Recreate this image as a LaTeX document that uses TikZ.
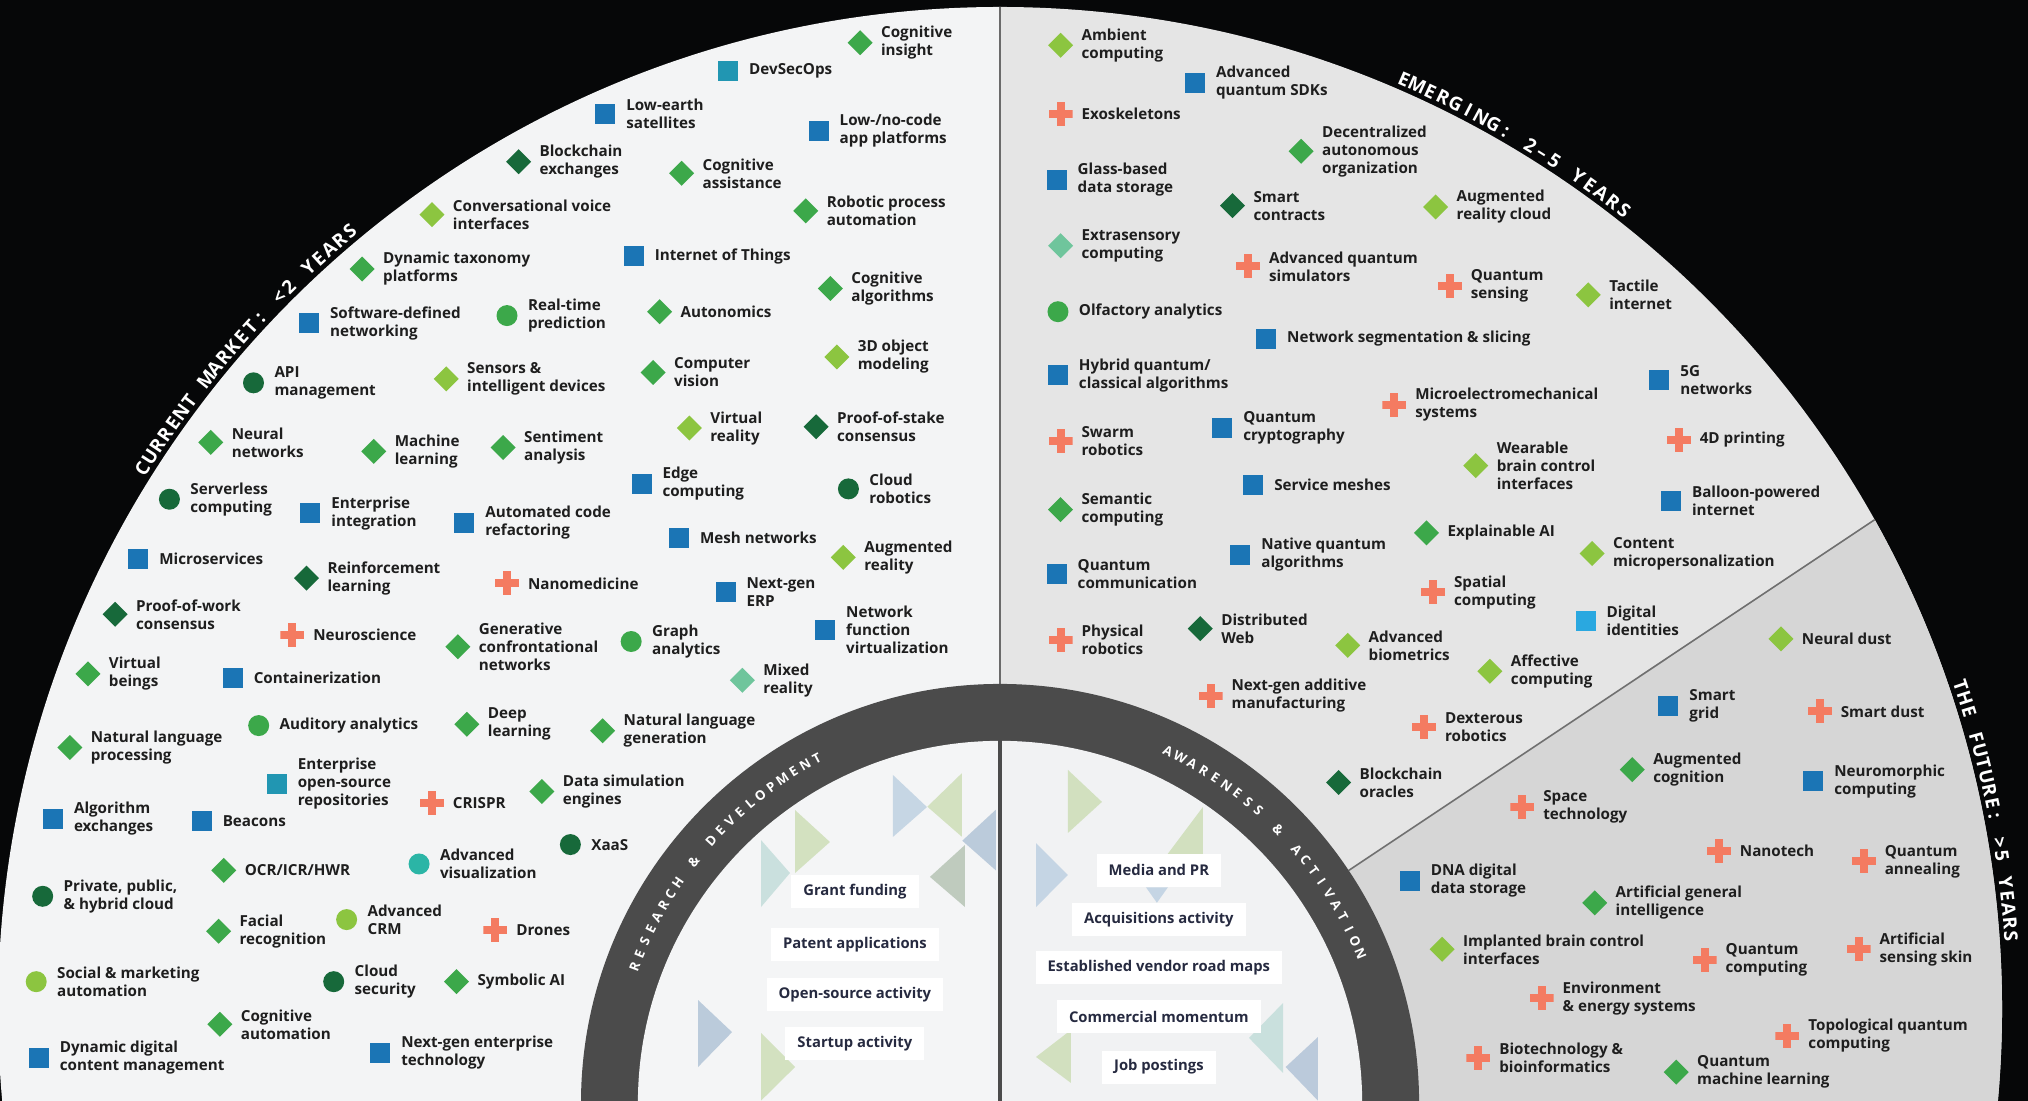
\documentclass[tikz,border=0pt]{standalone}
\usepackage{fontspec}
\setmainfont{Open Sans}
\usetikzlibrary{shapes.geometric,calc}

\definecolor{cbg}{HTML}{060708}
\definecolor{cleft}{HTML}{F3F4F5}
\definecolor{cright}{HTML}{E5E5E5}
\definecolor{cfut}{HTML}{D6D6D6}
\definecolor{cinL}{HTML}{F4F5F6}
\definecolor{cinR}{HTML}{F1F2F3}
\definecolor{cring}{HTML}{4B4B4B}
\definecolor{cvline}{HTML}{6A6A6A}
\definecolor{cdiv}{HTML}{707070}
\definecolor{ctext}{HTML}{1E1E1E}
\definecolor{cnavy}{HTML}{262A40}
\definecolor{cblue}{HTML}{1B75B5}
\definecolor{cteal}{HTML}{2196B2}
\definecolor{clblue}{HTML}{2AA8E0}
\definecolor{cgreen}{HTML}{3CA84A}
\definecolor{cdark}{HTML}{17693A}
\definecolor{clime}{HTML}{8CC540}
\definecolor{cmint}{HTML}{6FC59C}
\definecolor{ctealc}{HTML}{2BB5A6}
\definecolor{cred}{HTML}{F47B61}
\definecolor{tblue}{HTML}{B7CCDF}
\definecolor{tgreen}{HTML}{C8DBAE}
\definecolor{tteal}{HTML}{BCDAD6}
\definecolor{tgrey}{HTML}{AEBDAC}
\definecolor{tslate}{HTML}{A9BDD3}

\newcommand\lblfont{\fontsize{7.6}{9}\selectfont\bfseries}
\newcommand\boxfont{\fontsize{7.4}{8.6}\selectfont\bfseries}
\newcommand\titlefont{\fontsize{9.4}{11}\selectfont\bfseries}
\newcommand\ringfont{\fontsize{6.6}{8}\selectfont\bfseries}

% one technology: marker node m<id> and its label l<id>
\newcommand\tk[5]{%
  \node[#2] (m#1) at (#3,#4) {};
  \node[lbl] (l#1) at ([xshift=10.5pt]m#1.center) {#5};}

% letters set along a circular arc, tops outward, spread evenly
% #1 name prefix, #2 centre, #3 radius, #4 start angle, #5 end angle (clockwise), #6 font, #7 letters
\newlength\chw
\newcommand\curvetext[7]{%
  \gdef\ctw{0}\gdef\ctn{0}%
  \foreach \ch in {#7}{%
    \settowidth\chw{#6\ch}%
    \pgfmathsetmacro\tmpa{\ctw+\chw}\xdef\ctw{\tmpa}%
    \pgfmathtruncatemacro\tmpb{\ctn+1}\xdef\ctn{\tmpb}%
  }%
  \pgfmathsetmacro\ctrad{#3*0.6467}%
  \pgfmathsetmacro\ctlen{\ctrad*((#4-#5)/180*pi)}%
  \pgfmathsetmacro\ctgap{(\ctlen-\ctw)/(\ctn-1)}%
  \gdef\ctpos{0}%
  \foreach \ch [count=\ci] in {#7}{%
    \settowidth\chw{#6\ch}%
    \pgfmathsetmacro\ctmid{\ctpos+\chw/2}%
    \pgfmathsetmacro\ctang{#4-(\ctmid/\ctrad)*57.29578}%
    \node[anchor=base, inner sep=0pt, outer sep=0pt, rotate=\ctang-90, font=#6, text=white]
      (#1\ci) at ($(#2)+(-\ctang:#3)$) {\ch};
    \pgfmathsetmacro\tmpc{\ctpos+\chw+\ctgap}\xdef\ctpos{\tmpc}%
  }%
}

\tikzset{
  mk/.style={inner sep=0pt, outer sep=0pt, draw=none},
  sq/.style={mk, rectangle, minimum size=10pt, fill=#1},
  dm/.style={mk, diamond, minimum size=12.5pt, fill=#1},
  ci/.style={mk, circle, minimum size=10.5pt, fill=#1},
  pl/.style={mk, rectangle, minimum size=12pt,
    path picture={
      \fill[#1] ($(path picture bounding box.center)+(-6pt,-2pt)$) rectangle ++(12pt,4pt);
      \fill[#1] ($(path picture bounding box.center)+(-2pt,-6pt)$) rectangle ++(4pt,12pt);}},
  lbl/.style={anchor=west, align=left, inner sep=0pt, outer sep=0pt, font=\lblfont, text=ctext},
  ibox/.style={fill=white, inner xsep=6pt, inner ysep=0pt, minimum height=16.5pt, font=\boxfont, text=cnavy}
}

\begin{document}
\begin{tikzpicture}[x=0.6467pt,y=-0.6467pt]
\useasboundingbox (0,0) rectangle (1568,851);
\fill[cbg] (0,0) rectangle (1568,851);

\coordinate (O) at (773.2,780.1);
\coordinate (C) at (773.2,852.8);

% the three horizon sectors
\begin{scope}
  \clip (O) circle[radius=774.7];
  \fill[cleft] (0,0) rectangle (773.2,851);
  \fill[cright] (773.2,0) rectangle (1568,851);
  \fill[cfut] (C) -- ++(-33.7:1400) -- (2200,852.8) -- cycle;
  \draw[cdiv, line width=0.8pt] ($(C)+(-33.7:324)$) -- ($(C)+(-33.7:1000)$);
  \draw[cvline, line width=0.9pt] (773.2,0) -- (773.2,560);
\end{scope}

% central ring and inner half discs
\fill[cring] (C) circle[radius=324];
\begin{scope}
  \clip (C) circle[radius=280];
  \fill[cinL] (400,500) rectangle (773.2,860);
  \fill[cinR] (773.2,500) rectangle (1150,860);
  \begin{scope}[fill opacity=0.75]
    \fill[tblue]  (690.4,599.2) -- (690.4,647.1) -- (716.7,624) -- cycle;
    \fill[tgreen] (743.6,597.9) -- (743.6,646.9) -- (717,623.7) -- cycle;
    \fill[tgreen] (614.7,626.3) -- (614.7,675) -- (641.7,651) -- cycle;
    \fill[tteal]  (588.4,649.5) -- (588.4,701.3) -- (610.8,675) -- cycle;
    \fill[tgrey]  (746.1,653.3) -- (746.1,701.3) -- (719,678) -- cycle;
    \fill[tslate] (770,626) -- (770,673) -- (744,650) -- cycle;
    \fill[tslate] (539.7,773.2) -- (539.7,825) -- (566,798) -- cycle;
    \fill[tgreen] (588.4,798.7) -- (588.4,851) -- (614.7,825) -- cycle;
    \fill[tgreen] (825.7,595.3) -- (825.7,644) -- (852,620) -- cycle;
    \fill[tblue]  (801,651.8) -- (801,701.3) -- (825.7,676.5) -- cycle;
    \fill[tgreen] (930,624) -- (930,664) -- (900,664) -- cycle;
    \fill[tblue]  (886,686) -- (903,686) -- (894.5,698) -- cycle;
    \fill[tgreen] (828,796.4) -- (828,837.3) -- (801,817.2) -- cycle;
    \fill[tteal]  (992,775.5) -- (992,829.6) -- (965.7,802.5) -- cycle;
    \fill[tslate] (1019,801.8) -- (1019,851) -- (994,825) -- cycle;
  \end{scope}
\end{scope}
\draw[cring, line width=2.2pt] (773.2,560) -- (773.2,851);

% horizon titles and ring captions
\curvetext{cm}{O}{778.5}{147.8}{129.9}{\titlefont}{C,U,R,R,E,N,T,~,M,A,R,K,E,T,:,~,<,2,~,Y,E,A,R,S}
\curvetext{em}{O}{778.5}{66.5}{52}{\titlefont}{E,M,E,R,G,I,N,G,:,~,2,–,5,~,Y,E,A,R,S}
\curvetext{fu}{O}{778.5}{18.6}{4.1}{\titlefont}{T,H,E,~,F,U,T,U,R,E,:,~,>,5,~,Y,E,A,R,S}
\curvetext{rd}{C}{298}{159.5}{118}{\ringfont}{R,E,S,E,A,R,C,H,~,\&,~,D,E,V,E,L,O,P,M,E,N,T}
\curvetext{aa}{C}{298}{64.5}{22.5}{\ringfont}{A,W,A,R,E,N,E,S,S,~,\&,~,A,C,T,I,V,A,T,I,O,N}

% inner signals
\node[ibox] (b1) at (661,689) {Grant funding};
\node[ibox] (b2) at (661,730) {Patent applications};
\node[ibox] (b3) at (661,769) {Open-source activity};
\node[ibox] (b4) at (661,807) {Startup activity};
\node[ibox] (b5) at (896,673) {Media and PR};
\node[ibox] (b6) at (896,711) {Acquisitions activity};
\node[ibox] (b7) at (896,748) {Established vendor road maps};
\node[ibox] (b8) at (896,786) {Commercial momentum};
\node[ibox] (b9) at (896,825) {Job postings};

% current market
\tk{1}{dm=cgreen}{665}{33}{Cognitive\\insight}
\tk{2}{sq=cteal}{563}{55}{DevSecOps}
\tk{3}{sq=cblue}{468}{88}{Low-earth\\satellites}
\tk{4}{sq=cblue}{633}{101}{Low-/no-code\\app platforms}
\tk{5}{dm=cdark}{401}{125}{Blockchain\\exchanges}
\tk{6}{dm=cgreen}{527}{134}{Cognitive\\assistance}
\tk{7}{dm=clime}{334}{166}{Conversational voice\\interfaces}
\tk{8}{dm=cgreen}{623}{163}{Robotic process\\automation}
\tk{9}{dm=cgreen}{280}{208}{Dynamic taxonomy\\platforms}
\tk{10}{sq=cblue}{490}{198}{Internet of Things}
\tk{11}{dm=cgreen}{642}{223}{Cognitive\\algorithms}
\tk{12}{sq=cblue}{239}{250}{Software-defined\\networking}
\tk{13}{ci=cgreen}{392}{244}{Real-time\\prediction}
\tk{14}{dm=cgreen}{510}{241}{Autonomics}
\tk{15}{dm=clime}{647}{276}{3D object\\modeling}
\tk{16}{ci=cdark}{196}{296}{API\\management}
\tk{17}{dm=clime}{345}{293}{Sensors \&\\intelligent devices}
\tk{18}{dm=cgreen}{505}{288}{Computer\\vision}
\tk{19}{dm=cgreen}{163}{342}{Neural\\networks}
\tk{20}{dm=cgreen}{289}{349}{Machine\\learning}
\tk{21}{dm=cgreen}{389}{346}{Sentiment\\analysis}
\tk{22}{dm=clime}{533}{331}{Virtual\\reality}
\tk{23}{dm=cdark}{631}{330}{Proof-of-stake\\consensus}
\tk{24}{ci=cdark}{131}{386}{Serverless\\computing}
\tk{25}{sq=cblue}{240}{397}{Enterprise\\integration}
\tk{26}{sq=cblue}{359}{404}{Automated code\\refactoring}
\tk{27}{sq=cblue}{496}{374}{Edge\\computing}
\tk{28}{ci=cdark}{656}{378}{Cloud\\robotics}
\tk{29}{sq=cblue}{525}{416}{Mesh networks}
\tk{30}{dm=clime}{652}{431}{Augmented\\reality}
\tk{31}{sq=cblue}{107}{432}{Microservices}
\tk{32}{dm=cdark}{237}{447}{Reinforcement\\learning}
\tk{33}{pl=cred}{392}{451}{Nanomedicine}
\tk{34}{sq=cblue}{561}{458}{Next-gen\\ERP}
\tk{35}{dm=cdark}{89}{475}{Proof-of-work\\consensus}
\tk{36}{pl=cred}{226}{491}{Neuroscience}
\tk{37}{dm=cgreen}{354}{500}{Generative\\confrontational\\networks}
\tk{38}{ci=cgreen}{488}{496}{Graph\\analytics}
\tk{39}{sq=cblue}{638}{487}{Network\\function\\virtualization}
\tk{40}{dm=cgreen}{68}{521}{Virtual\\beings}
\tk{41}{sq=cblue}{180}{524}{Containerization}
\tk{42}{dm=cmint}{574}{526}{Mixed\\reality}
\tk{43}{ci=cgreen}{200}{561}{Auditory analytics}
\tk{44}{dm=cgreen}{361}{560}{Deep\\learning}
\tk{45}{dm=cgreen}{466}{565}{Natural language\\generation}
\tk{46}{dm=cgreen}{54}{578}{Natural language\\processing}
\tk{47}{sq=cteal}{214}{606}{Enterprise\\open-source\\repositories}
\tk{48}{pl=cred}{334}{621}{CRISPR}
\tk{49}{dm=cgreen}{419}{612}{Data simulation\\engines}
\tk{50}{sq=cblue}{41}{633}{Algorithm\\exchanges}
\tk{51}{sq=cblue}{156}{635}{Beacons}
\tk{52}{ci=cdark}{441}{653}{XaaS}
\tk{53}{dm=cgreen}{173}{673}{OCR/ICR/HWR}
\tk{54}{ci=ctealc}{324}{668}{Advanced\\visualization}
\tk{55}{ci=cdark}{33}{693}{Private, public,\\\& hybrid cloud}
\tk{56}{ci=clime}{268}{711}{Advanced\\CRM}
\tk{57}{dm=cgreen}{169}{720}{Facial\\recognition}
\tk{58}{pl=cred}{383}{719}{Drones}
\tk{59}{ci=clime}{28}{759}{Social \& marketing\\automation}
\tk{60}{ci=cdark}{258}{759}{Cloud\\security}
\tk{61}{dm=cgreen}{353}{759}{Symbolic AI}
\tk{62}{dm=cgreen}{170}{792}{Cognitive\\automation}
\tk{63}{sq=cblue}{30}{818}{Dynamic digital\\content management}
\tk{64}{sq=cblue}{294}{814}{Next-gen enterprise\\technology}

% emerging
\tk{65}{dm=clime}{820}{35}{Ambient\\computing}
\tk{66}{sq=cblue}{924}{64}{Advanced\\quantum SDKs}
\tk{67}{pl=cred}{820}{88}{Exoskeletons}
\tk{68}{dm=cgreen}{1006}{117}{Decentralized\\autonomous\\organization}
\tk{69}{sq=cblue}{817}{139}{Glass-based\\data storage}
\tk{70}{dm=cdark}{953}{159}{Smart\\contracts}
\tk{71}{dm=clime}{1110}{160}{Augmented\\reality cloud}
\tk{72}{dm=cmint}{820}{190}{Extrasensory\\computing}
\tk{73}{pl=cred}{965}{206}{Advanced quantum\\simulators}
\tk{74}{pl=cred}{1121}{221}{Quantum\\sensing}
\tk{75}{dm=clime}{1228}{228}{Tactile\\internet}
\tk{76}{ci=cgreen}{818}{241}{Olfactory analytics}
\tk{77}{sq=cblue}{979}{262}{Network segmentation \& slicing}
\tk{78}{sq=cblue}{818}{290}{Hybrid quantum/\\classical algorithms}
\tk{79}{pl=cred}{1078}{313}{Microelectromechanical\\systems}
\tk{80}{sq=cblue}{1283}{294}{5G\\networks}
\tk{81}{sq=cblue}{945}{331}{Quantum\\cryptography}
\tk{82}{pl=cred}{820}{341}{Swarm\\robotics}
\tk{83}{pl=cred}{1298}{340}{4D printing}
\tk{84}{dm=clime}{1141}{360}{Wearable\\brain control\\interfaces}
\tk{85}{sq=cblue}{969}{375}{Service meshes}
\tk{86}{sq=cblue}{1292}{387}{Balloon-powered\\internet}
\tk{87}{dm=cgreen}{820}{394}{Semantic\\computing}
\tk{88}{dm=cgreen}{1103}{412}{Explainable AI}
\tk{89}{sq=cblue}{959}{429}{Native quantum\\algorithms}
\tk{90}{dm=clime}{1231}{428}{Content\\micropersonalization}
\tk{91}{sq=cblue}{817}{444}{Quantum\\communication}
\tk{92}{pl=cred}{1108}{458}{Spatial\\computing}
\tk{93}{sq=clblue}{1226}{480}{Digital\\identities}
\tk{94}{pl=cred}{820}{495}{Physical\\robotics}
\tk{95}{dm=cdark}{928}{486}{Distributed\\Web}
\tk{96}{dm=clime}{1042}{499}{Advanced\\biometrics}
\tk{97}{dm=clime}{1152}{519}{Affective\\computing}
\tk{98}{pl=cred}{936}{538}{Next-gen additive\\manufacturing}
\tk{99}{pl=cred}{1101}{562}{Dexterous\\robotics}
\tk{100}{dm=cdark}{1035}{605}{Blockchain\\oracles}

% future
\tk{101}{dm=clime}{1377}{494}{Neural dust}
\tk{102}{sq=cblue}{1290}{546}{Smart\\grid}
\tk{103}{pl=cred}{1407}{550}{Smart dust}
\tk{104}{dm=cgreen}{1262}{595}{Augmented\\cognition}
\tk{105}{sq=cblue}{1402}{604}{Neuromorphic\\computing}
\tk{106}{pl=cred}{1177}{624}{Space\\technology}
\tk{107}{pl=cred}{1329}{658}{Nanotech}
\tk{108}{pl=cred}{1441}{666}{Quantum\\annealing}
\tk{109}{sq=cblue}{1090}{681}{DNA digital\\data storage}
\tk{110}{dm=cgreen}{1233}{698}{Artificial general\\intelligence}
\tk{111}{dm=clime}{1115}{734}{Implanted brain control\\interfaces}
\tk{112}{pl=cred}{1318}{742}{Quantum\\computing}
\tk{113}{pl=cred}{1437}{734}{Artificial\\sensing skin}
\tk{114}{pl=cred}{1192}{772}{Environment\\\& energy systems}
\tk{115}{pl=cred}{1382}{801}{Topological quantum\\computing}
\tk{116}{pl=cred}{1143}{818}{Biotechnology \&\\bioinformatics}
\tk{117}{dm=cgreen}{1296}{829}{Quantum\\machine learning}
\end{tikzpicture}
\end{document}
